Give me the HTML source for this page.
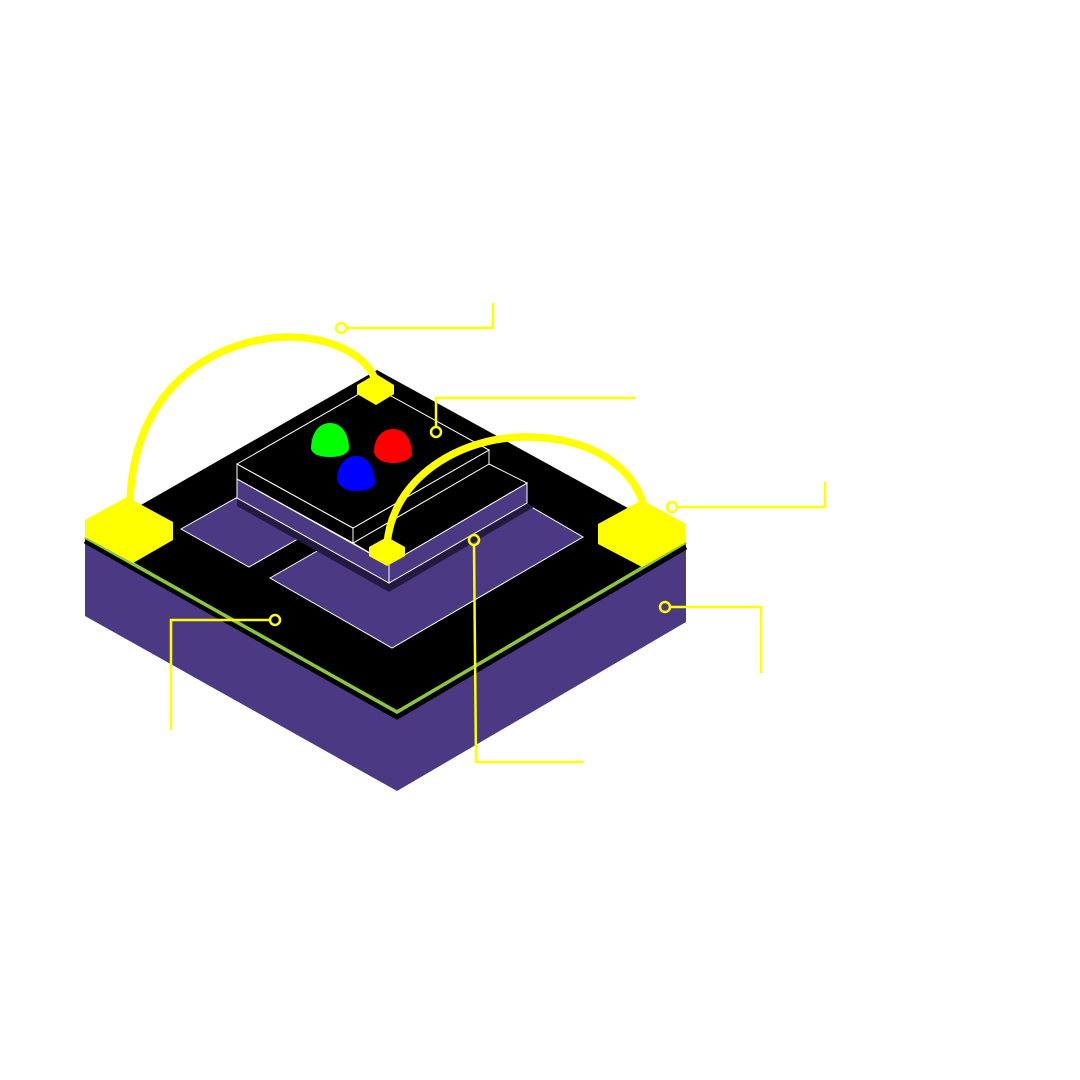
<!DOCTYPE html>
<html><head><meta charset="utf-8"><style>html,body{margin:0;padding:0;background:#fff}svg{display:block}</style></head>
<body>
<svg width="1080" height="1080" viewBox="0 0 1080 1080" xmlns="http://www.w3.org/2000/svg">
<rect width="1080" height="1080" fill="#fff"/>
<polygon points="85,537 397,712 397,791 85,616" fill="#4b3a83"/>
<polygon points="397,712 686,540 686,622 397,791" fill="#4b3a83"/>
<polygon points="85,537 377,370 686,540 397,712" fill="#000"/>
<polyline points="85,541 397,717 686,547" fill="none" stroke="#000" stroke-width="5"/>
<polyline points="85,537 397,712 686,542" fill="none" stroke="#8cc63f" stroke-width="3.5"/>
<polygon points="181,529 236,498 303,536 249,567" fill="#4b3a83" stroke="#fff" stroke-width="1"/>
<polygon points="270,578 340,538 528,505 583,537 392,648" fill="#4b3a83" stroke="#fff" stroke-width="1"/>
<polygon points="237,497 389,583 527,503 534,507 389,592 237,506" fill="#221a40"/>
<polygon points="237,479 389,564 389,583 237,498" fill="#4b3a83" stroke="#fff" stroke-width="1"/>
<polygon points="389,564 527,483 527,503 389,583" fill="#4b3a83" stroke="#fff" stroke-width="1"/>
<polygon points="353,543 389,564 527,483 489,464" fill="#000" stroke="#fff" stroke-width="1"/>
<polygon points="237,464 353,528 353,543 237,479" fill="#000" stroke="#fff" stroke-width="1"/>
<polygon points="353,528 489,450 489,464 353,543" fill="#000" stroke="#fff" stroke-width="1"/>
<polygon points="237,464 373,386 489,450 353,528" fill="#000" stroke="#fff" stroke-width="1"/>
<path d="M311,449 C311,433 319,423 330,423 C341,423 349,433 349,449 C347,455 339,457 330,457 C321,457 313,455 311,449Z" fill="#00ff00"/>
<path d="M374,452 C374,438 382,429 393,429 C404,429 412,438 412,455 C409,461 401,463 393,463 C384,463 376,460 374,452Z" fill="#ff0000"/>
<path d="M337,480 C337,466 345,456 356,456 C367,456 375,466 375,484 C372,489 364,491 356,491 C347,491 340,488 337,480Z" fill="#0000ff"/>
<polygon points="85,520 127,497 173,522 173,540 133,563 85,537" fill="#ffff00"/>
<polygon points="598,524 642,500 686,524 686,542 642,567 598,544" fill="#ffff00"/>
<polygon points="357,385 376,374 394,385 394,394 376,405 357,394" fill="#ffff00"/>
<polygon points="369,547 387,537 405,547 405,556 387,566 369,556" fill="#ffff00"/>
<path d="M130,502 C134,385 215,340 285,337 C330,336 370,356 376,383" fill="none" stroke="#ffff00" stroke-width="7.5"/>
<path d="M387,545 C392,478 460,436 528,437 C590,438 632,465 644,506" fill="none" stroke="#ffff00" stroke-width="7.5"/>
<g fill="none" stroke="#ffff00" stroke-width="2.5">
<polyline points="346,328 493,328 493,303"/>
<polyline points="436,427 436,398 636,398"/>
<polyline points="677,507 825,507 825,482"/>
<polyline points="670,607 761,607 761,673"/>
<polyline points="474,545 476,762 583,762"/>
<polyline points="270,620 171,620 171,730"/>
</g>
<g fill="none" stroke="#ffff00" stroke-width="2.5">
<circle cx="341" cy="328" r="5" fill="#fff"/>
<circle cx="436" cy="432" r="5"/>
<circle cx="672" cy="507" r="5" fill="#fff"/>
<circle cx="665" cy="607" r="5"/>
<circle cx="474" cy="540" r="5"/>
<circle cx="275" cy="620" r="5"/>
</g>
</svg>
</body></html>
